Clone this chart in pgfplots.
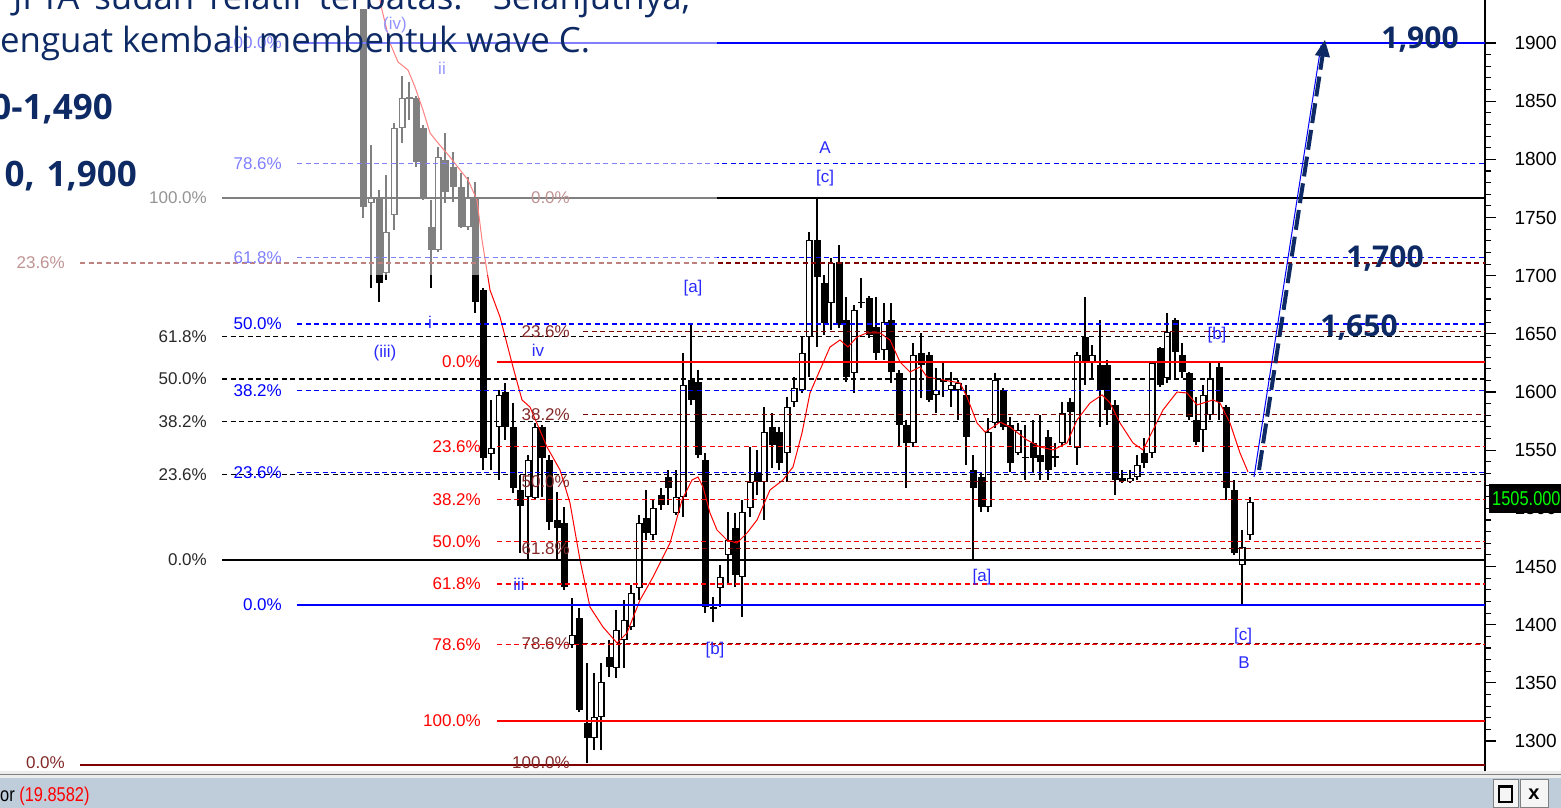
\documentclass[border=0pt]{standalone}
\usepackage{fontspec}
\setmainfont{Liberation Sans}
\newfontfamily\osans{Open Sans}
\newfontfamily\narrowsans[FakeStretch=0.82]{Liberation Sans}
\usepackage{pgfplots}
\usepackage{pgfplotstable}
\pgfplotsset{compat=1.18}
\usetikzlibrary{arrows.meta}
\definecolor{navy}{RGB}{14,42,100}
\definecolor{fibblue}{RGB}{0,0,255}
\definecolor{fibred}{RGB}{255,0,0}
\definecolor{fibbrown}{RGB}{128,0,0}
\definecolor{lblblack}{RGB}{40,40,40}
\definecolor{lblbrown}{RGB}{130,40,40}
\definecolor{wave}{RGB}{40,40,255}
\definecolor{barbg}{RGB}{191,205,219}

\pgfplotstableread{
x o h l c
363 1929.3 1929.3 1750 1759
371 1762.5 1812.3 1689.4 1766.8
379 1766.8 1773.7 1677.4 1693.7
386 1702.3 1786.6 1696.3 1737.6
394 1752.2 1831.3 1739.3 1827.0
402 1827.0 1871.7 1814.1 1852.8
409 1851.9 1866.5 1833.8 1853.6
416 1852.8 1854.5 1793.4 1797.8
423 1827.0 1829.6 1765.1 1766.8
431 1741.9 1765.1 1689.4 1722.1
438 1722.1 1810.6 1720.4 1802.0
445 1799.5 1822.7 1762.5 1772.0
453 1793.4 1806.3 1763.4 1776.3
461 1776.3 1788.3 1741.0 1741.9
468 1741.9 1784.9 1739.3 1766.8
475 1766.8 1780.6 1667.9 1677.4
483 1687.7 1689.4 1533.0 1543.3
491 1546.7 1593.2 1533.0 1551.9
499 1569.9 1601.8 1524.4 1597.5
505 1600.0 1607.8 1558.8 1569.9
513 1569.9 1590.6 1513.2 1517.5
520 1515.8 1528.7 1461.6 1502.0
528 1509.8 1545.9 1455.6 1541.6
535 1508.9 1573.4 1507.2 1569.9
542 1569.9 1571.7 1509.8 1543.3
549 1541.6 1545.9 1481.4 1488.3
557 1490.0 1514.1 1455.6 1483.1
564 1487.4 1501.2 1429.8 1432.4
572 1382.6 1423.0 1380.0 1391.2
579 1405.8 1414.4 1325.0 1326.7
587 1315.5 1367.1 1281.1 1302.6
594 1302.6 1358.5 1292.3 1320.6
601 1320.6 1367.1 1292.3 1350.8
609 1372.2 1386.9 1355.0 1363.6
616 1362.8 1412.7 1354.2 1395.4
624 1386.9 1421.2 1362.8 1404.0
631 1398.0 1434.1 1395.4 1427.3
639 1431.5 1494.3 1421.2 1487.4
646 1491.7 1515.8 1472.8 1478.8
653 1477.1 1507.2 1472.8 1500.3
661 1511.5 1517.5 1498.6 1502.9
668 1527.0 1533.0 1502.9 1517.5
676 1496.0 1533.0 1494.3 1509.8
683 1509.8 1633.6 1492.6 1606.1
691 1610.4 1657.6 1588.9 1593.2
698 1608.6 1619.0 1543.3 1545.9
705 1541.6 1547.6 1410.1 1415.2
713 1415.2 1423.8 1402.3 1413.5
720 1431.5 1451.3 1415.2 1441.0
728 1459.9 1496.9 1434.1 1472.8
735 1483.1 1496.0 1432.4 1442.7
742 1441.0 1507.2 1406.6 1496.9
750 1500.3 1552.8 1492.6 1522.6
757 1531.3 1550.2 1511.5 1522.6
764 1522.6 1587.2 1490.0 1565.6
772 1569.9 1582.0 1534.7 1554.5
779 1565.6 1569.9 1533.0 1539.0
787 1547.6 1595.7 1522.6 1587.2
794 1591.4 1612.9 1587.2 1603.5
802 1601.8 1647.3 1599.2 1633.6
809 1647.3 1737.6 1612.9 1730.7
817 1730.7 1766.8 1638.7 1698.9
824 1693.7 1700.6 1649.0 1659.3
831 1676.6 1715.2 1653.3 1710.9
839 1711.8 1726.4 1655.1 1657.6
846 1661.9 1681.7 1608.6 1612.9
854 1616.4 1674.8 1599.2 1670.5
861 1677.4 1698.0 1672.2 1676.6
869 1680.8 1682.6 1646.5 1649.0
876 1655.9 1681.7 1627.5 1633.6
884 1636.2 1676.6 1627.5 1660.2
891 1661.9 1676.6 1607.8 1617.2
899 1616.4 1619.0 1552.8 1571.7
906 1571.7 1576.0 1517.5 1556.2
913 1556.2 1642.2 1552.8 1631.8
921 1633.6 1650.8 1594.9 1623.3
929 1631.8 1634.4 1591.4 1593.2
936 1597.5 1620.7 1582.0 1601.8
943 1608.6 1625.8 1595.7 1610.4
951 1601.8 1617.2 1587.2 1606.1
958 1601.8 1610.4 1575.9 1607.8
966 1597.5 1606.1 1537.3 1561.4
973 1533.0 1545.9 1455.6 1517.5
981 1527.0 1531.3 1496.9 1501.2
988 1501.2 1577.7 1496.9 1565.6
995 1573.4 1616.4 1569.1 1610.4
1003 1601.8 1603.5 1567.4 1569.9
1010 1571.7 1578.5 1531.3 1539.0
1018 1547.6 1573.4 1545.9 1567.4
1025 1543.3 1571.7 1524.4 1544.2
1033 1556.2 1576.0 1530.4 1543.3
1040 1545.9 1580.3 1524.4 1539.9
1048 1561.4 1567.4 1524.4 1533.0
1055 1543.3 1556.2 1535.6 1545.0
1062 1556.2 1591.4 1552.8 1582.0
1070 1591.4 1594.9 1554.5 1582.8
1077 1551.9 1634.4 1537.3 1631.8
1085 1647.3 1681.7 1606.1 1625.0
1092 1625.0 1640.4 1612.1 1631.8
1100 1623.3 1661.9 1569.9 1601.8
1107 1623.3 1627.5 1571.7 1584.6
1115 1588.9 1593.2 1511.5 1524.4
1122 1526.1 1533.0 1521.8 1523.5
1130 1523.5 1533.0 1521.8 1526.1
1137 1527.0 1545.9 1524.4 1537.3
1144 1547.6 1560.5 1534.7 1539.0
1152 1547.6 1625.8 1543.3 1625.0
1160 1637.9 1638.7 1604.3 1606.1
1167 1612.1 1667.9 1607.8 1651.6
1175 1661.9 1663.6 1610.4 1634.4
1182 1631.8 1642.2 1612.1 1617.2
1189 1616.4 1617.2 1575.9 1578.5
1196 1575.9 1595.7 1554.5 1557.1
1203 1567.4 1606.1 1548.5 1597.5
1210 1580.3 1625.0 1575.9 1612.1
1219 1621.5 1625.8 1575.9 1591.4
1226 1587.2 1588.9 1507.2 1517.5
1234 1515.8 1524.4 1459.9 1461.6
1242 1451.3 1481.4 1416.9 1466.8
1250 1477.1 1509.8 1472.8 1505.5
}\candles

\pgfplotstableread{
x ma
380 1937
382 1928.4
390 1900.0
398 1883.7
408 1876.8
415 1862.2
423 1842.4
430 1822.7
438 1814.1
450 1802.0
460 1790.9
468 1782.3
477 1765.1
482 1730.7
490 1687.7
500 1664.5
513 1621.5
522 1593.2
530 1587.1
547 1552.8
560 1533.0
570 1504.6
580 1455.6
590 1415.2
603 1398.0
617 1384.3
627 1392.9
640 1421.2
653 1441.0
670 1470.2
682 1507.2
692 1524.4
698 1527.0
703 1518.4
710 1496.0
717 1481.4
727 1472.8
737 1470.2
747 1478.8
757 1490.0
770 1515.8
783 1524.4
793 1535.6
802 1564.8
810 1599.2
820 1619.0
830 1638.7
840 1644.7
848 1638.7
857 1647.3
867 1650.8
880 1650.8
890 1644.7
900 1625.8
910 1617.2
920 1621.5
927 1612.9
943 1610.4
960 1607.8
967 1595.7
977 1573.4
985 1565.6
993 1569.9
1000 1574.2
1010 1569.9
1027 1558.8
1040 1552.8
1053 1550.2
1067 1556.2
1077 1576.0
1090 1590.6
1102 1597.5
1110 1590.6
1120 1573.4
1133 1556.2
1143 1550.2
1153 1567.4
1163 1584.6
1177 1600.0
1187 1599.2
1197 1588.9
1213 1593.2
1220 1590.6
1230 1573.4
1240 1547.6
1248 1531.3
}\matable

\tikzset{
  fibdash/.style={line width=1.3pt, dash pattern=on 5pt off 3.5pt},
  fibsolid/.style={line width=1.5pt},
  fl/.style={font=\fontsize{17}{17}\selectfont, anchor=east, inner sep=0pt},
  wl/.style={font=\fontsize{17}{17}\selectfont, text=wave, inner sep=0pt},
  bignum/.style={font=\fontsize{30}{30}\selectfont\osans\bfseries, text=navy, inner sep=0pt},
}

\begin{document}
\begin{tikzpicture}
\begin{axis}[
  at={(0pt,33pt)}, anchor=south west,
  scale only axis, width=1485pt, height=775pt,
  xmin=0, xmax=1485, ymin=1270.8, ymax=1937,
  hide x axis,
  axis y line*=right,
  y axis line style={line width=1.5pt, -},
  ytick={1300,1350,...,1900},
  minor y tick num=4,
  tick align=outside,
  major tick length=11pt, minor tick length=6pt,
  every tick/.style={black, line width=1.1pt},
  yticklabel style={font=\fontsize{19}{19}\selectfont, xshift=15pt},
  /pgf/number format/assume math mode=true,
  /pgf/number format/1000 sep={},
]
% wicks
\addplot[draw=none, mark=none, forget plot, error bars/.cd, y dir=both, y explicit, error mark=none,
  error bar style={draw=black, solid, line width=1.2pt}]
  table[x=x, y expr={(\thisrow{h}+\thisrow{l})/2}, y error expr={(\thisrow{h}-\thisrow{l})/2}] {\candles};
% bodies (outline / filled)
\addplot[draw=none, mark=none, forget plot, error bars/.cd, y dir=both, y explicit, error mark=none,
  error bar style={draw=black, solid, line width=7pt}]
  table[x=x, y expr={(\thisrow{o}+\thisrow{c})/2}, y error expr={max(abs(\thisrow{c}-\thisrow{o})/2,0.7)}] {\candles};
% hollow interior of rising candles
\addplot[draw=none, mark=none, forget plot, error bars/.cd, y dir=both, y explicit, error mark=none,
  error bar style={draw=white, solid, line width=4.7pt}]
  table[x=x, y expr={(\thisrow{o}+\thisrow{c})/2}, y error expr={ifthenelse(\thisrow{c}>\thisrow{o},max((\thisrow{c}-\thisrow{o})/2-0.95,0),0)}] {\candles};
% moving average
\addplot[fibred, line width=1pt] table[x=x, y=ma] {\matable};

% brown fib (left)
\addplot[fibbrown, fibdash] coordinates {(80,1710.9) (1485,1710.9)};
\addplot[fibbrown, line width=2pt] coordinates {(80,1279.4) (1485,1279.4)};
% brown fib (middle)
\addplot[fibbrown, fibdash] coordinates {(583,1651.8) (1485,1651.8)};
\addplot[fibbrown, fibdash] coordinates {(583,1580.6) (1485,1580.6)};
\addplot[fibbrown, fibdash] coordinates {(583,1523.1) (1485,1523.1)};
\addplot[fibbrown, fibdash] coordinates {(583,1465.6) (1485,1465.6)};
\addplot[fibbrown, fibdash] coordinates {(583,1383.7) (1485,1383.7)};
% black fib
\addplot[black, fibsolid] coordinates {(222,1766.8) (1485,1766.8)};
\addplot[black, fibdash] coordinates {(222,1647.9) (1485,1647.9)};
\addplot[black, fibdash] coordinates {(222,1611.2) (1485,1611.2)};
\addplot[black, fibdash] coordinates {(222,1574.5) (1485,1574.5)};
\addplot[black, fibdash] coordinates {(222,1529.0) (1485,1529.0)};
\addplot[black, fibsolid] coordinates {(222,1455.6) (1485,1455.6)};
% red fib
\addplot[fibred, fibsolid] coordinates {(497,1625.8) (1485,1625.8)};
\addplot[fibred, fibdash] coordinates {(497,1553.0) (1485,1553.0)};
\addplot[fibred, fibdash] coordinates {(497,1507.9) (1485,1507.9)};
\addplot[fibred, fibdash] coordinates {(497,1471.5) (1485,1471.5)};
\addplot[fibred, fibdash] coordinates {(497,1435.1) (1485,1435.1)};
\addplot[fibred, fibdash] coordinates {(497,1383.2) (1485,1383.2)};
\addplot[fibred, fibsolid] coordinates {(497,1317.2) (1485,1317.2)};
% blue fib
\addplot[fibblue, fibsolid] coordinates {(297,1900.0) (1485,1900.0)};
\addplot[fibblue, fibdash] coordinates {(297,1796.6) (1485,1796.6)};
\addplot[fibblue, fibdash] coordinates {(297,1715.5) (1485,1715.5)};
\addplot[fibblue, fibdash] coordinates {(297,1658.5) (1485,1658.5)};
\addplot[fibblue, fibdash] coordinates {(297,1601.4) (1485,1601.4)};
\addplot[fibblue, fibdash] coordinates {(297,1530.9) (1485,1530.9)};
\addplot[fibblue, fibsolid] coordinates {(297,1416.9) (1485,1416.9)};

% fib labels
\node[fl, text=lblbrown] at (axis cs:65,1710.9) {23.6\%};
\node[fl, text=lblbrown] at (axis cs:65,1281.5) {0.0\%};
\node[fl, text=lblblack] at (axis cs:207,1766.8) {100.0\%};
\node[fl, text=lblblack] at (axis cs:207,1647.9) {61.8\%};
\node[fl, text=lblblack] at (axis cs:207,1611.2) {50.0\%};
\node[fl, text=lblblack] at (axis cs:207,1574.5) {38.2\%};
\node[fl, text=lblblack] at (axis cs:207,1529.0) {23.6\%};
\node[fl, text=lblblack] at (axis cs:207,1455.6) {0.0\%};
\node[fl, text=fibblue] at (axis cs:282,1900.0) {100.0\%};
\node[fl, text=fibblue] at (axis cs:282,1796.6) {78.6\%};
\node[fl, text=fibblue] at (axis cs:282,1715.5) {61.8\%};
\node[fl, text=fibblue] at (axis cs:282,1658.5) {50.0\%};
\node[fl, text=fibblue] at (axis cs:282,1601.4) {38.2\%};
\node[fl, text=fibblue] at (axis cs:282,1530.9) {23.6\%};
\node[fl, text=fibblue] at (axis cs:282,1416.9) {0.0\%};
\node[fl, text=fibred] at (axis cs:481,1625.8) {0.0\%};
\node[fl, text=fibred] at (axis cs:481,1553.0) {23.6\%};
\node[fl, text=fibred] at (axis cs:481,1507.9) {38.2\%};
\node[fl, text=fibred] at (axis cs:481,1471.5) {50.0\%};
\node[fl, text=fibred] at (axis cs:481,1435.1) {61.8\%};
\node[fl, text=fibred] at (axis cs:481,1383.2) {78.6\%};
\node[fl, text=fibred] at (axis cs:481,1317.2) {100.0\%};
\node[fl, text=lblbrown] at (axis cs:570,1766.8) {0.0\%};
\node[fl, text=lblbrown] at (axis cs:570,1651.8) {23.6\%};
\node[fl, text=lblbrown] at (axis cs:570,1580.6) {38.2\%};
\node[fl, text=lblbrown] at (axis cs:570,1523.1) {50.0\%};
\node[fl, text=lblbrown] at (axis cs:570,1465.6) {61.8\%};
\node[fl, text=lblbrown] at (axis cs:570,1383.7) {78.6\%};
\node[fl, text=lblbrown] at (axis cs:570,1281.5) {100.0\%};

% wave labels
\node[wl] at (axis cs:395,1915.5) {(iv)};
\node[wl] at (axis cs:442,1878.5) {ii};
\node[wl] at (axis cs:430,1660.2) {i};
\node[wl] at (axis cs:385,1633.6) {(iii)};
\node[wl] at (axis cs:538,1636.1) {iv};
\node[wl] at (axis cs:519,1435.0) {iii};
\node[wl] at (axis cs:693,1689.4) {[a]};
\node[wl] at (axis cs:825,1809.8) {A};
\node[wl] at (axis cs:825,1784.0) {[c]};
\node[wl] at (axis cs:715,1378.3) {[b]};
\node[wl] at (axis cs:982,1441.0) {[a]};
\node[wl] at (axis cs:1217,1649.0) {[b]};
\node[wl] at (axis cs:1243,1390.3) {[c]};
\node[wl] at (axis cs:1244,1367.1) {B};

% faded area (top left)
\fill[white, fill opacity=0.5] (axis cs:0,1937) rectangle (axis cs:717,1700.6);

% projection arrow
\addplot[fibblue, line width=1pt] coordinates {(1254,1527) (1321,1898)};
\addplot[navy, line width=4pt, dash pattern=on 20pt off 7pt, -{Triangle[length=17pt,width=14pt]}] coordinates {(1259,1533) (1325,1903)};

% targets
\node[bignum] at (axis cs:1420,1902.6) {1,900};
\node[bignum] at (axis cs:1385,1714.4) {1,700};
\node[bignum] at (axis cs:1359,1655.0) {1,650};
\end{axis}

\begin{scope}[x=1pt, y=1pt]
% top text
\node[anchor=base west, inner sep=0pt, text=navy, font=\fontsize{34.8}{34.8}\selectfont\osans] at (13,798) {\makebox[677pt][s]{JFTA sudah relatif terbatas. Selanjutnya,}};
\node[anchor=base west, inner sep=0pt, text=navy, font=\fontsize{34.8}{34.8}\selectfont\osans] at (0,755) {enguat kembali membentuk wave C.};
\node[anchor=base east, inner sep=0pt, text=navy, font=\fontsize{35}{35}\selectfont\osans\bfseries] at (113,688) {0-1,490};
\node[anchor=base east, inner sep=0pt, text=navy, font=\fontsize{35}{35}\selectfont\osans\bfseries] at (137,621) {0,\kern3pt\ 1,900};
% price box
\fill[black] (1489,295) rectangle (1561,324);
\node[anchor=west, inner sep=0pt, text=green, font=\fontsize{20}{20}\selectfont\narrowsans] at (1492,309.5) {1505.000};
% bottom bar
\fill[gray!15] (0,30) rectangle (1561,37);
\draw[gray, line width=1.2pt] (0,33.5) -- (1561,33.5);
\fill[barbg] (0,0) rectangle (1561,30);
\node[anchor=base west, inner sep=0pt, font=\fontsize{20}{20}\selectfont\narrowsans] at (0,6) {or \textcolor{red}{(19.8582)}};
\draw[gray, fill=white!92!gray] (1493,1) rectangle (1518,29);
\draw[black, line width=1.2pt] (1499,6) rectangle (1512,22);
\draw[black, line width=2.5pt] (1499,21) -- (1512,21);
\draw[gray, fill=white!92!gray] (1520,1) rectangle (1548,29);
\node[font=\fontsize{20}{20}\selectfont\bfseries] at (1534,14) {x};
\end{scope}
\pgfresetboundingbox
\useasboundingbox (0pt,0pt) rectangle (1561pt,808pt);
\end{tikzpicture}
\end{document}
